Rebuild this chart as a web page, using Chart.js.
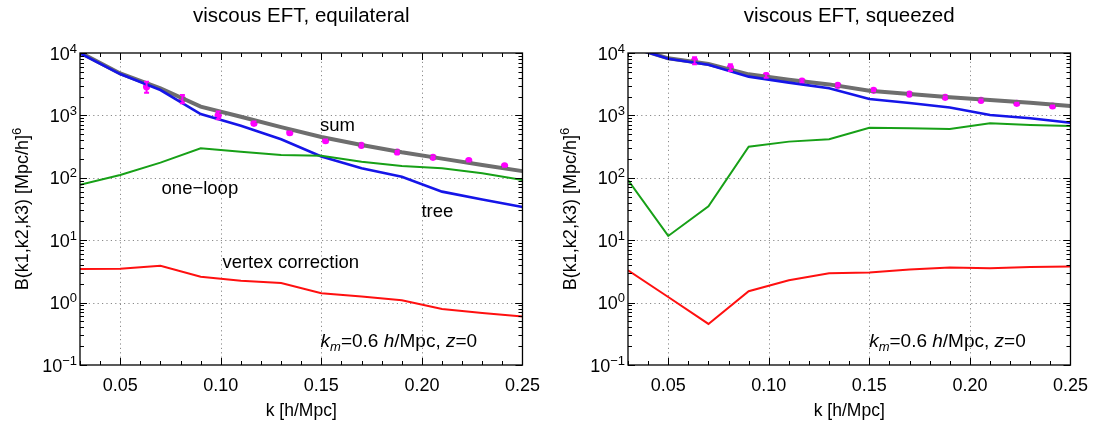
<!DOCTYPE html>
<html><head><meta charset="utf-8">
<script src="https://cdn.jsdelivr.net/npm/chart.js@4.4.1/dist/chart.umd.min.js"></script>
<style>
html,body{margin:0;padding:0;background:#fff;}
#wrap{position:relative;width:1099px;height:430px;overflow:hidden;background:#fff;}
.pane{position:absolute;top:0;width:550px;height:430px;}
</style></head><body>
<div id="wrap">
<div class="pane" style="left:0"><canvas id="c1" width="550" height="430"></canvas></div>
<div class="pane" style="left:548px"><canvas id="c2" width="550" height="430"></canvas></div>
</div>
<script>
// ---- data ----
const kGrid = [0.03,0.05,0.07,0.09,0.11,0.13,0.15,0.17,0.19,0.21,0.23,0.25];
const eqSum     = [10200, 4700, 2720, 1380, 950, 650, 450, 336, 256, 203, 160, 128];
const eqTree    = [9900, 4600, 2550, 1050, 680, 414, 220, 142, 104, 60, 45, 34];
const eqOneLoop = [77, 111, 175, 297, 262, 232, 226, 181, 155, 142, 118, 92];
const eqVertex  = [3.44, 3.5, 3.9, 2.6, 2.24, 2.06, 1.41, 1.25, 1.09, 0.79, 0.68, 0.60];

const sqSum     = [13000, 8220, 6660, 4550, 3730, 3140, 2490, 2200, 1950, 1766, 1600, 1413];
const sqTree    = [12800, 8100, 6500, 4180, 3350, 2720, 1832, 1580, 1340, 1015, 898, 764];
const sqOneLoop = [92, 11.7, 35, 315, 380, 414, 635, 621, 605, 746, 701, 676];
const sqVertex  = [3.3, 1.23, 0.455, 1.52, 2.28, 2.96, 3.03, 3.38, 3.64, 3.55, 3.73, 3.78];

const kData  = [0.0631, 0.0809, 0.0987, 0.1165, 0.1343, 0.1521, 0.1699, 0.1877, 0.2055, 0.2233, 0.2411];
const eqData  = [2890, 1830, 1000, 746, 528, 394, 332, 259, 213, 188, 156];
const eqErrLo = [2310, 1560, 865, 700, 505, 378, 320, 250, 206, 182, 151];
const eqErrHi = [3470, 2120, 1150, 795, 552, 410, 344, 268, 220, 194, 161];
const sqData  = [7540, 5810, 4330, 3560, 3036, 2520, 2200, 1950, 1746, 1563, 1415];
const sqErrLo = [6590, 5150, 4000, 3400, 2920, 2430, 2130, 1890, 1700, 1525, 1385];
const sqErrHi = [8530, 6590, 4700, 3730, 3160, 2610, 2270, 2010, 1795, 1600, 1445];

const xTickVals   = [0.05, 0.10, 0.15, 0.20, 0.25];
const xTickLabels = ['0.05', '0.10', '0.15', '0.20', '0.25'];
const yTickVals   = [0.1, 1, 10, 100, 1000, 10000];
const yTickBase   = '10';
const yTickExps   = ['\u22121', '0', '1', '2', '3', '4'];

// ---- helpers ----
const FONT = "'Liberation Sans', Arial, Helvetica, sans-serif";
function pts(xs, ys){ return xs.map((x,i)=>({x:x, y:ys[i]})); }

// draws rich text parts; parts: {t, it, size, rise}
function measureParts(ctx, parts){
  let w = 0;
  parts.forEach(p=>{ ctx.font = (p.it?'italic ':'') + p.size + 'px ' + FONT; w += ctx.measureText(p.t).width; });
  return w;
}
function drawParts(ctx, parts, x, y, align){
  const w = measureParts(ctx, parts);
  let cx = align === 'center' ? x - w/2 : (align === 'right' ? x - w : x);
  ctx.textAlign = 'left';
  ctx.textBaseline = 'alphabetic';
  parts.forEach(p=>{
    ctx.font = (p.it?'italic ':'') + p.size + 'px ' + FONT;
    ctx.fillText(p.t, cx, y - (p.rise||0));
    cx += ctx.measureText(p.t).width;
  });
}

const framePlugin = {
  id: 'frame',
  beforeDatasetsDraw(chart){
    const {ctx, chartArea:a, scales:{x, y}} = chart;
    ctx.save();
    ctx.strokeStyle = '#8a8a8a';
    ctx.lineWidth = 1;
    ctx.setLineDash([1.2, 3.2]);
    xTickVals.forEach(v=>{
      const px = Math.round(x.getPixelForValue(v))+0.5;
      if (px > a.left+2 && px < a.right-2){
        ctx.beginPath(); ctx.moveTo(px, a.top); ctx.lineTo(px, a.bottom); ctx.stroke();
      }
    });
    yTickVals.forEach(v=>{
      const py = Math.round(y.getPixelForValue(v))+0.5;
      if (py > a.top+2 && py < a.bottom-2){
        ctx.beginPath(); ctx.moveTo(a.left, py); ctx.lineTo(a.right, py); ctx.stroke();
      }
    });
    ctx.restore();
  },
  afterDatasetsDraw(chart, args, opts){
    const {ctx, chartArea:a, scales:{x, y}} = chart;
    // error bars
    const eb = opts.err;
    if (eb){
      ctx.save();
      ctx.strokeStyle = '#ff00ff';
      ctx.lineWidth = 2;
      eb.k.forEach((k,i)=>{
        const px = x.getPixelForValue(k);
        const p1 = y.getPixelForValue(eb.lo[i]);
        const p2 = y.getPixelForValue(eb.hi[i]);
        ctx.beginPath(); ctx.moveTo(px, p1); ctx.lineTo(px, p2);
        ctx.moveTo(px-2.5, p1); ctx.lineTo(px+2.5, p1);
        ctx.moveTo(px-2.5, p2); ctx.lineTo(px+2.5, p2);
        ctx.stroke();
      });
      ctx.restore();
    }
    // frame
    ctx.save();
    ctx.strokeStyle = '#000';
    ctx.lineWidth = 1.3;
    ctx.setLineDash([]);
    ctx.strokeRect(a.left, a.top, a.right-a.left, a.bottom-a.top);
    ctx.lineWidth = 1;
    ctx.beginPath();
    for (let i=3; i<=25; i++){
      const v = i/100;
      const px = Math.round(x.getPixelForValue(v))+0.5;
      const len = (i % 5 === 0) ? 7 : 4;
      ctx.moveTo(px, a.bottom); ctx.lineTo(px, a.bottom-len);
      ctx.moveTo(px, a.top); ctx.lineTo(px, a.top+len);
    }
    for (let e=-1; e<=3; e++){
      for (let m=1; m<=10; m++){
        const v = m*Math.pow(10,e);
        const py = Math.round(y.getPixelForValue(v))+0.5;
        const len = (m===1 || m===10) ? 7 : 4;
        ctx.moveTo(a.left, py); ctx.lineTo(a.left+len, py);
        ctx.moveTo(a.right, py); ctx.lineTo(a.right-len, py);
      }
    }
    ctx.stroke();
    ctx.restore();

    ctx.save();
    ctx.fillStyle = '#000';
    // title
    drawParts(ctx, [{t: opts.title, size: 20.5}], (a.left+a.right)/2, 22, 'center');
    // y tick labels (10 with exponent)
    yTickVals.forEach((v,i)=>{
      const py = y.getPixelForValue(v);
      drawParts(ctx, [{t:yTickBase, size:18}, {t:yTickExps[i], size:13, rise:7}], a.left - 3, py + 6.5, 'right');
    });
    // y axis title (rotated)
    ctx.save();
    ctx.translate(28, (a.top+a.bottom)/2);
    ctx.rotate(-Math.PI/2);
    drawParts(ctx, [{t:'B(k1,k2,k3) [Mpc/h]', size:18}, {t:'6', size:13, rise:7}], 0, 0, 'center');
    ctx.restore();
    // annotations
    (opts.labels||[]).forEach(l=>{
      const px = x.getPixelForValue(l.k);
      const py = y.getPixelForValue(l.v);
      drawParts(ctx, l.parts, px, py + 6.5, l.align);
    });
    ctx.restore();
  }
};

function makeChart(id, title, sum, tree, loop, vert, data, lo, hi, labels){
  const ds = [
    {data: pts(kGrid, loop), borderColor:'#17a017', borderWidth:2},
    {data: pts(kGrid, vert), borderColor:'#ff1010', borderWidth:2},
    {data: pts(kGrid, tree), borderColor:'#1515e8', borderWidth:2.6},
    {data: pts(kGrid, sum), borderColor:'#6e6e6e', borderWidth:4},
    {data: pts(kGrid, sum), borderColor:'#000000', borderWidth:1.8, borderDash:[3,2.5]},
    {data: pts(kData, data), showLine:false, pointRadius:3.6, pointBackgroundColor:'#ff00ff', pointBorderWidth:0, pointStyle:'circle'}
  ];
  ds.forEach((d,i)=>{ if(i<5){ d.showLine = true; d.pointRadius = 0; d.tension = 0; d.fill=false; } });
  return new Chart(document.getElementById(id), {
    type: 'scatter',
    data: {datasets: ds},
    plugins: [framePlugin],
    options: {
      responsive: false,
      animation: false,
      events: [],
      layout: {padding: {left: 0, right: 23, top: 53, bottom: 0}},
      plugins: {
        legend: {display:false},
        tooltip: {enabled:false},
        title: {display:false},
        frame: {title: title, err: {k: kData, lo: lo, hi: hi}, labels: labels}
      },
      scales: {
        x: {
          type:'linear', min:0.03, max:0.25,
          afterBuildTicks: s => { s.ticks = xTickVals.map(v=>({value:v})); },
          afterFit: s => { s.height = 65; },
          grid: {display:false, drawTicks:false},
          border: {display:false},
          ticks: {autoSkip:false, maxRotation:0, padding:10, color:'#000', font:{family:FONT, size:18},
                  callback: (v,i) => xTickLabels[i]},
          title: {display:true, text:'k [h/Mpc]', color:'#000', font:{family:FONT, size:17.5}, padding:{top:0, bottom:8}}
        },
        y: {
          type:'logarithmic', min:0.1, max:10000,
          afterBuildTicks: s => { s.ticks = yTickVals.map(v=>({value:v, major:true})); },
          afterFit: s => { s.width = 80; },
          grid: {display:false, drawTicks:false},
          border: {display:false},
          ticks: {display:false},
          title: {display:false}
        }
      }
    }
  });
}

const kmParts = [{t:'k', it:true, size:19},{t:'m', it:true, size:13, rise:-4},{t:'=0.6 ', size:19},{t:'h', it:true, size:19},{t:'/Mpc, ', size:19},{t:'z', it:true, size:19},{t:'=0', size:19}];

makeChart('c1', 'viscous EFT, equilateral', eqSum, eqTree, eqOneLoop, eqVertex, eqData, eqErrLo, eqErrHi, [
  {k:0.158, v:728, align:'center', parts:[{t:'sum', size:18.5}]},
  {k:0.0896, v:71, align:'center', parts:[{t:'one\u2212loop', size:18.5}]},
  {k:0.2077, v:29.4, align:'center', parts:[{t:'tree', size:18.5}]},
  {k:0.1348, v:4.64, align:'center', parts:[{t:'vertex correction', size:18.5}]},
  {k:0.1496, v:0.243, align:'left', parts:kmParts}
]);
makeChart('c2', 'viscous EFT, squeezed', sqSum, sqTree, sqOneLoop, sqVertex, sqData, sqErrLo, sqErrHi, [
  {k:0.1499, v:0.243, align:'left', parts:kmParts}
]);
</script>
</body></html>
